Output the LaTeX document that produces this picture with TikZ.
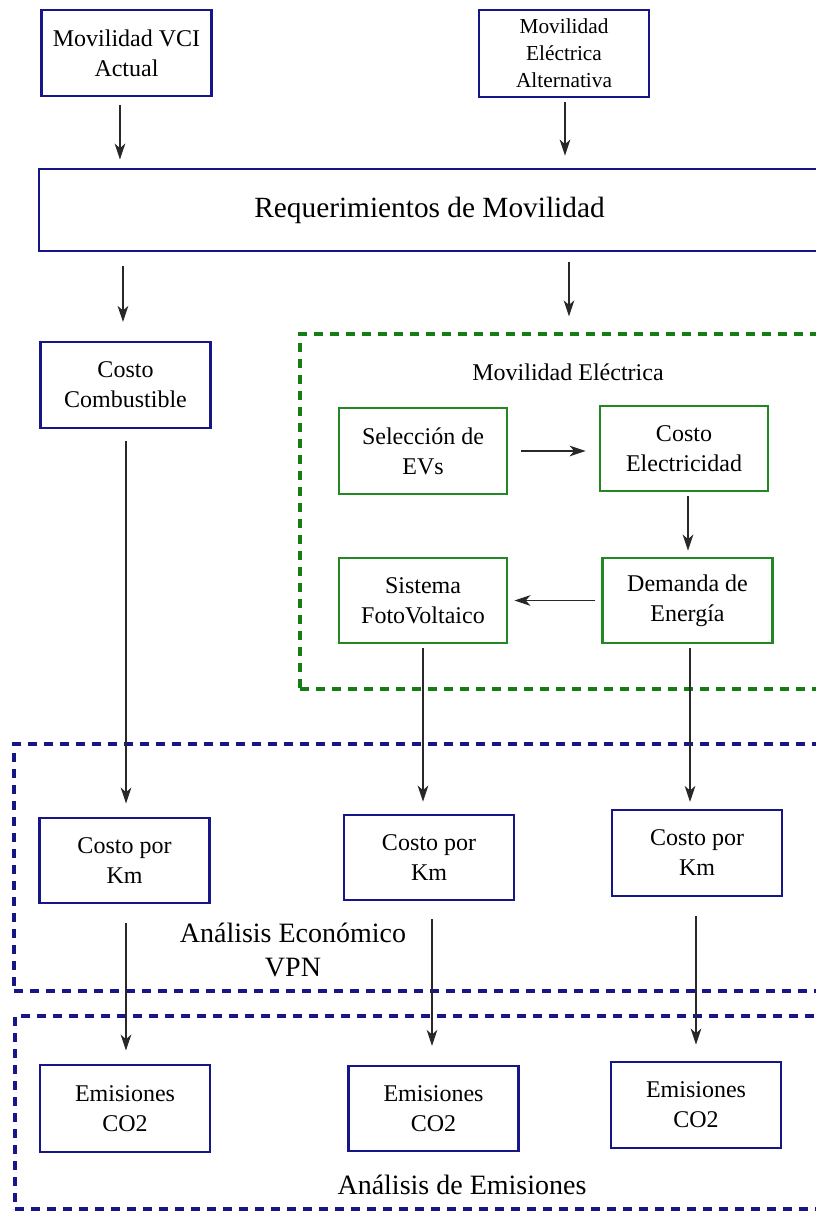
\documentclass[tikz,border=0pt]{standalone}
\usepackage{fontspec}
\setmainfont{Liberation Serif}
\usetikzlibrary{arrows.meta}
\definecolor{navyc}{RGB}{22,22,135}
\definecolor{greenc}{RGB}{35,135,35}
\definecolor{dgreen}{RGB}{20,125,20}
\definecolor{arrc}{RGB}{40,40,40}
\tikzset{
  bbox/.style={draw=navyc, line width=2.2pt, align=center, inner sep=0pt,
    minimum width=127pt, minimum height=64.5pt,
    font=\fontsize{18}{22.5}\selectfont},
  gbox/.style={bbox, draw=greenc},
  grpbox/.style={draw=#1, line width=2.5pt, dash pattern=on 7pt off 5pt, inner sep=0pt},
  lbl/.style={align=center, inner sep=0pt, font=\fontsize{21}{26}\selectfont},
  arr/.style={draw=arrc, line width=0.9pt, -{Stealth[length=12pt,width=8pt,inset=3.5pt]}},
}
\begin{document}
\begin{tikzpicture}[x=0.75pt,y=-0.75pt]
\useasboundingbox (0,0) rectangle (816,1211);
\clip (0,0) rectangle (816,1211);
\fill[white] (0,0) rectangle (816,1211);

% containers
\node[grpbox=dgreen, minimum width=397.5pt, minimum height=266.25pt] (grp) at (565,511.5) {};
\node[grpbox=navyc, minimum width=612pt, minimum height=185.25pt] (eco) at (422,867.5) {};
\node[grpbox=navyc, minimum width=611.25pt, minimum height=144.75pt] (emi) at (422.5,1112.5) {};

% labels
\node[inner sep=0pt, font=\fontsize{18}{22.5}\selectfont] (grplbl) at (568,372) {Movilidad Eléctrica};
\node[lbl] (ecolbl) at (293,950) {Análisis Económico\\VPN};
\node[lbl] (emilbl) at (462,1185) {Análisis de Emisiones};

% top
\node[bbox] (vci) at (126.5,53) {Movilidad VCI\\Actual};
\node[bbox, minimum width=127.5pt, minimum height=65.25pt, font=\fontsize{16}{20.25}\selectfont] (alt) at (564,53.5) {Movilidad\\Eléctrica\\Alternativa};
\node[bbox, minimum width=585.75pt, minimum height=61.5pt, font=\fontsize{22}{26}\selectfont] (req) at (429.5,210) {Requerimientos de Movilidad};

\node[bbox] (comb) at (125.5,385) {Costo\\Combustible};

% green group
\node[gbox, minimum width=126pt] (sel) at (423,451) {Selección de\\EVs};
\node[gbox, minimum width=126pt, minimum height=63.75pt] (cel) at (684,448.5) {Costo\\Electricidad};
\node[gbox, minimum height=63.75pt] (dem) at (687.5,600.5) {Demanda de\\Energía};
\node[gbox, minimum width=126pt, minimum height=63.75pt] (sis) at (423,600.5) {Sistema\\FotoVoltaico};

% costs
\node[bbox, minimum height=63.75pt] (km1) at (124.5,860.5) {Costo por\\Km};
\node[bbox, minimum width=127.5pt, minimum height=63.75pt] (km2) at (429,857.5) {Costo por\\Km};
\node[bbox, minimum width=127.5pt] (km3) at (697,853) {Costo por\\Km};

% emissions
\node[bbox, minimum width=127.5pt, minimum height=65.25pt] (em1) at (125,1108.5) {Emisiones\\CO2};
\node[bbox, minimum height=63.75pt] (em2) at (433.5,1108.5) {Emisiones\\CO2};
\node[bbox, minimum width=127.5pt] (em3) at (696,1105) {Emisiones\\CO2};

% connectors
\draw[arr, shorten <=6pt, shorten >=6pt] ([xshift=-4.9pt]vci.south) -- ([xshift=-4.9pt]vci.south |- req.north);
\draw[arr, shorten <=3pt, shorten >=9pt] ([xshift=0.75pt]alt.south) -- ([xshift=0.75pt]alt.south |- req.north);
\draw[arr, shorten <=10.5pt, shorten >=14pt] ([xshift=-1.9pt]comb.north |- req.south) -- ([xshift=-1.9pt]comb.north);
\draw[arr, shorten <=7.5pt, shorten >=12pt] (req.south -| grp.north) ++(3pt,0) coordinate (r4) (r4) -- (r4 |- grp.north);
\draw[arr, shorten <=9.75pt, shorten >=9.75pt] (sel.east) -- (sel.east -| cel.west);
\draw[arr, shorten <=3pt, shorten >=4.5pt] ([xshift=3pt]cel.south) -- ([xshift=3pt]cel.south |- dem.north);
\draw[arr, shorten <=4.5pt, shorten >=4.5pt] (dem.west) -- (dem.west -| sis.east);
\draw[arr, shorten <=3pt, shorten >=9pt] (sis.south) -- (sis.south |- km2.north);
\draw[arr, shorten <=3pt, shorten >=5pt] ([xshift=1.9pt]dem.south) -- ([xshift=1.9pt]dem.south |- km3.north);
\draw[arr, shorten <=9pt, shorten >=9.75pt] ([xshift=0.4pt]comb.south) -- ([xshift=0.4pt]comb.south |- km1.north);
\draw[arr, shorten <=14pt, shorten >=9.75pt] ([xshift=1.1pt]km1.south) -- ([xshift=1.1pt]km1.south |- em1.north);
\draw[arr, shorten <=13.5pt, shorten >=14pt] ([xshift=2.25pt]km2.south) -- ([xshift=2.25pt]km2.south |- em2.north);
\draw[arr, shorten <=14pt, shorten >=12pt] ([xshift=-0.75pt]km3.south) -- ([xshift=-0.75pt]km3.south |- em3.north);
\end{tikzpicture}
\end{document}
